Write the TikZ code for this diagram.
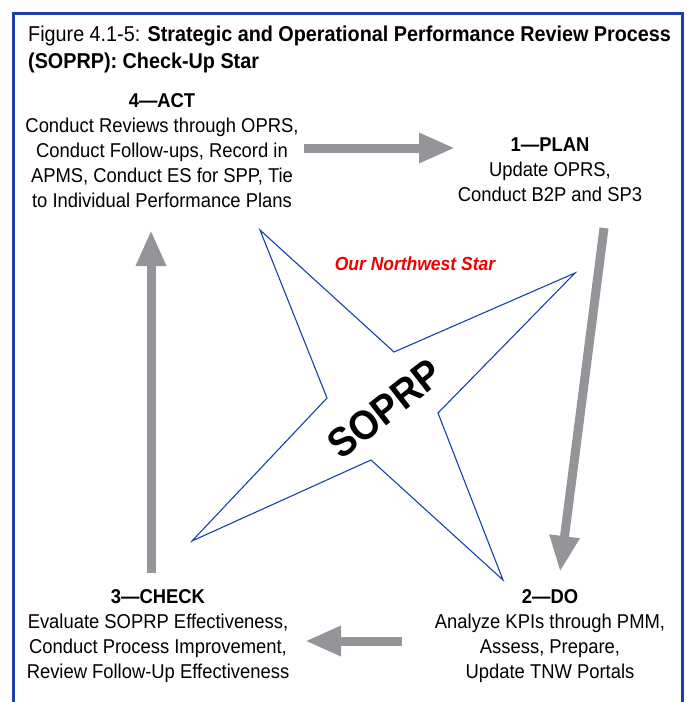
\documentclass[tikz,border=0pt]{standalone}
\usepackage{fontspec}
\setmainfont{Liberation Sans}[FakeStretch=0.92]
\usepackage{tikz}
\usetikzlibrary{arrows.meta}

\definecolor{framecol}{RGB}{28,62,170}
\definecolor{starcol}{RGB}{20,64,176}
\definecolor{arrowgray}{RGB}{147,149,152}
\definecolor{starred}{RGB}{240,0,0}

\tikzset{
    block/.style={align=center,inner sep=0pt,anchor=north,
        font=\fontsize{20}{25}\selectfont},
    bigarrow/.style={arrowgray,line width=9pt,
        -{Triangle[length=36pt,width=28pt]}},
}

\begin{document}
\begin{tikzpicture}[x=1pt,y=-1pt]
    \useasboundingbox (0,0) rectangle (686,702);
    \draw[framecol,line width=3pt] (13,702) |- (682,13) -- (682,702);

    \node[inner sep=0pt,anchor=north west,align=left,
        font=\fontsize{21.5}{27}\selectfont] (title) at (28,26)
        {Figure 4.1-5: \textbf{Strategic and Operational Performance Review Process}\\
         \textbf{(SOPRP): Check-Up Star}};

    % the star
    \draw[starcol,line width=1.1pt,line join=miter]
        (260,230) -- (394,352) -- (575,273) -- (438,413)
        -- (503,580) -- (371,460) -- (192,541) -- (327,398) -- cycle;
    \node[rotate=38,inner sep=0pt,font=\fontsize{41}{44}\selectfont\bfseries] (soprp) at (385,409) {SOPRP};
    \node[starred,font=\fontsize{19}{22}\selectfont\bfseries\itshape] (nwstar) at (415,264) {Our Northwest Star};

    % the four steps
    \node[block] (act) at (162,93) {\textbf{4---ACT}\\Conduct Reviews through OPRS,\\
        Conduct Follow-ups, Record in\\APMS, Conduct ES for SPP, Tie\\to Individual Performance Plans};
    \node[block] (plan) at (550,138) {\textbf{1---PLAN}\\Update OPRS,\\Conduct B2P and SP3};
    \node[block] (do) at (550,589) {\textbf{2---DO}\\Analyze KPIs through PMM,\\Assess, Prepare,\\Update TNW Portals};
    \node[block] (check) at (158,589) {\textbf{3---CHECK}\\Evaluate SOPRP Effectiveness,\\
        Conduct Process Improvement,\\Review Follow-Up Effectiveness};

    % arrow ends
    \coordinate (actout) at (304,148);
    \coordinate (planin) at (455,148);
    \coordinate (planout) at (604,228);
    \coordinate (doin) at (560,572);
    \coordinate (doout) at (402,641);
    \coordinate (checkin) at (305,641);
    \coordinate (checkout) at (151,573);
    \coordinate (actin) at (151,230);

    \draw[bigarrow] (actout) -- (planin);
    \draw[bigarrow] (planout) -- (doin);
    \draw[bigarrow] (doout) -- (checkin);
    \draw[bigarrow] (checkout) -- (actin);
\end{tikzpicture}
\end{document}
